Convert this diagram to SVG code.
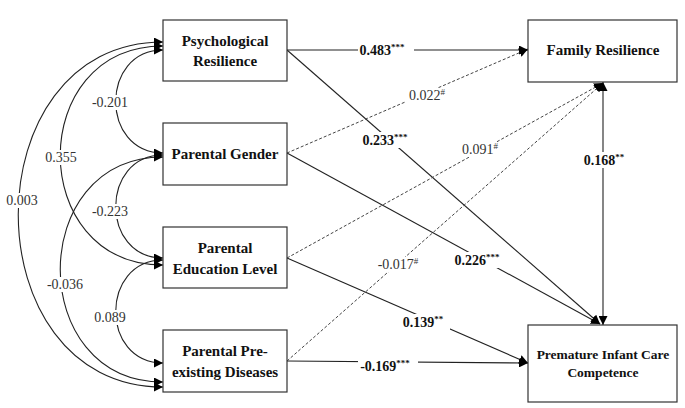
<svg xmlns="http://www.w3.org/2000/svg" width="685" height="408" viewBox="0 0 685 408">
<defs>
<marker id="a" viewBox="0 0 10 10" refX="10" refY="5" markerWidth="9" markerHeight="9" markerUnits="userSpaceOnUse" orient="auto-start-reverse"><path d="M0,0 L10,5 L0,10 z" fill="#000"/></marker>
<style>
.box{fill:#fff;stroke:#333;stroke-width:1.2}
.nt{font-family:'Liberation Serif','Times New Roman','DejaVu Serif',serif;font-weight:bold;font-size:15px;text-anchor:middle;fill:#111}
.ln{fill:none;stroke:#222;stroke-width:1.1}
.ds{fill:none;stroke:#444;stroke-width:1;stroke-dasharray:3,2}
.lb{font-family:'Liberation Serif','Times New Roman','DejaVu Serif',serif;font-size:14px;text-anchor:middle;fill:#333}
.lbb{font-family:'Liberation Serif','Times New Roman','DejaVu Serif',serif;font-size:14px;font-weight:bold;text-anchor:middle;fill:#111}
.bg{fill:#fff}
</style>
</defs>
<g id="connectors">
<path class="ln" d="M163,50 C100,50 100,153 163,153" marker-start="url(#a)" marker-end="url(#a)"/>
<path class="ln" d="M163,155 C100,155 100,258 163,258" marker-start="url(#a)" marker-end="url(#a)"/>
<path class="ln" d="M163,260 C100,260 100,363 163,363" marker-start="url(#a)" marker-end="url(#a)"/>
<path class="ln" d="M163,46 C26,46 26,265 163,265" marker-start="url(#a)" marker-end="url(#a)"/>
<path class="ln" d="M163,157 C26,157 26,382 163,382" marker-start="url(#a)" marker-end="url(#a)"/>
<path class="ln" d="M163,42 C-30,42 -30,387 163,387" marker-start="url(#a)" marker-end="url(#a)"/>
<path class="ln" d="M287,50 L528,50" marker-end="url(#a)"/>
<path class="ln" d="M287,50 L600,324" marker-end="url(#a)"/>
<path class="ln" d="M287,153 L600,324" marker-end="url(#a)"/>
<path class="ln" d="M287,258 L528,363" marker-end="url(#a)"/>
<path class="ln" d="M287,361 L528,363" marker-end="url(#a)"/>
<path class="ds" d="M287,153 L528,49" marker-end="url(#a)"/>
<path class="ds" d="M287,258 L603,83" marker-end="url(#a)"/>
<path class="ds" d="M287,361 L603,83" marker-end="url(#a)"/>
<path class="ln" d="M603,82 L603,325" marker-start="url(#a)" marker-end="url(#a)"/>
</g>
<g id="labels">
<rect class="bg" x="90" y="95" width="40" height="15"/><text class="lb" x="110" y="107">-0.201</text>
<rect class="bg" x="90" y="204" width="40" height="15"/><text class="lb" x="110" y="216">-0.223</text>
<rect class="bg" x="92" y="310" width="36" height="15"/><text class="lb" x="110" y="322">0.089</text>
<rect class="bg" x="43" y="150" width="36" height="15"/><text class="lb" x="61" y="162">0.355</text>
<rect class="bg" x="44" y="277" width="42" height="15"/><text class="lb" x="65" y="289">-0.036</text>
<rect class="bg" x="4" y="193" width="36" height="15"/><text class="lb" x="22" y="205">0.003</text>
<rect class="bg" x="358" y="42" width="56" height="16"/><text class="lbb" x="382" y="55">0.483<tspan font-size="9" dy="-5">***</tspan></text>
<rect class="bg" x="406" y="88" width="44" height="15"/><text class="lb" x="427" y="100">0.022<tspan font-size="9" dy="-5">#</tspan></text>
<rect class="bg" x="362" y="132" width="56" height="16"/><text class="lbb" x="385" y="145">0.233<tspan font-size="9" dy="-5">***</tspan></text>
<rect class="bg" x="459" y="142" width="44" height="15"/><text class="lb" x="480" y="154">0.091<tspan font-size="9" dy="-5">#</tspan></text>
<rect class="bg" x="451" y="252" width="58" height="16"/><text class="lbb" x="477" y="265">0.226<tspan font-size="9" dy="-5">***</tspan></text>
<rect class="bg" x="376" y="257" width="48" height="15"/><text class="lb" x="398" y="269">-0.017<tspan font-size="9" dy="-5">#</tspan></text>
<rect class="bg" x="400" y="314" width="50" height="16"/><text class="lbb" x="423" y="327">0.139<tspan font-size="9" dy="-5">**</tspan></text>
<rect class="bg" x="358" y="358" width="60" height="16"/><text class="lbb" x="385" y="371">-0.169<tspan font-size="9" dy="-5">***</tspan></text>
<rect class="bg" x="582" y="152" width="48" height="16"/><text class="lbb" x="604" y="165">0.168<tspan font-size="9" dy="-5">**</tspan></text>
</g>
<g id="psych"><rect class="box" x="163" y="20" width="124" height="61"/><text class="nt" x="225" y="46">Psychological</text><text class="nt" x="225" y="66">Resilience</text></g>
<g id="gender"><rect class="box" x="163" y="123" width="124" height="62"/><text class="nt" x="225" y="159">Parental Gender</text></g>
<g id="education"><rect class="box" x="163" y="227" width="124" height="61"/><text class="nt" x="225" y="253">Parental</text><text class="nt" x="225" y="274">Education Level</text></g>
<g id="preexisting"><rect class="box" x="163" y="330" width="124" height="62"/><text class="nt" x="225" y="356">Parental Pre-</text><text class="nt" x="225" y="377">existing Diseases</text></g>
<g id="family"><rect class="box" x="528" y="20" width="149" height="62"/><text class="nt" x="603" y="55">Family Resilience</text></g>
<g id="premature"><rect class="box" x="528" y="325" width="149" height="77"/><text class="nt" x="603" y="359" style="font-size:13.5px">Premature Infant Care</text><text class="nt" x="603" y="377" style="font-size:13.5px">Competence</text></g>
</svg>
